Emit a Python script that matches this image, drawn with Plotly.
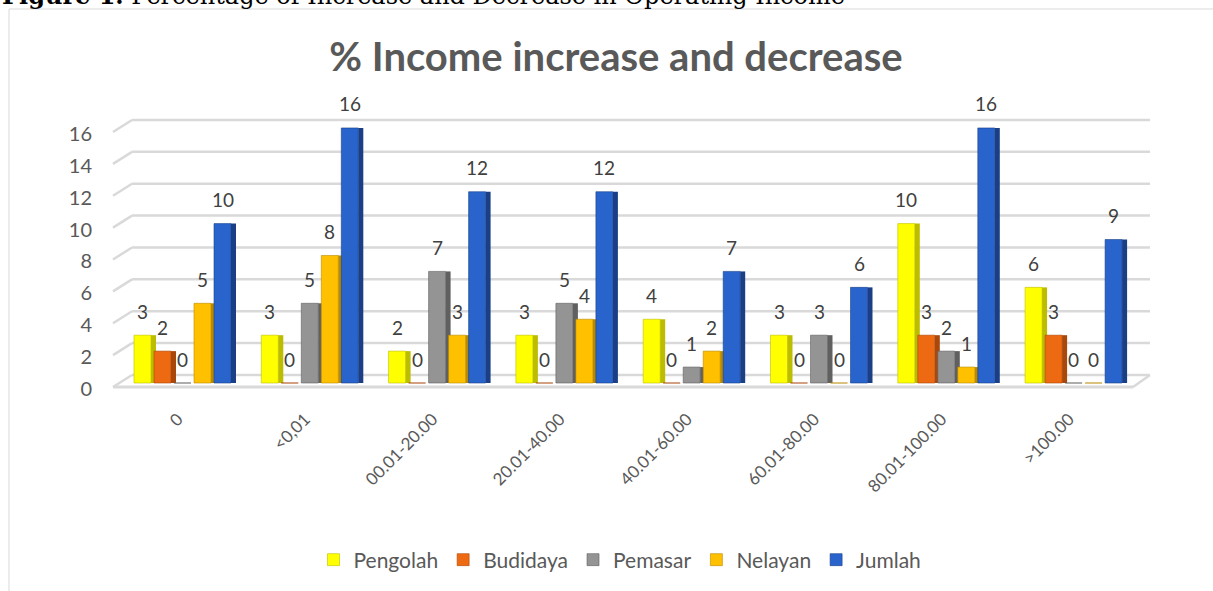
import plotly.graph_objects as go

# ---------------- data ----------------
categories = ["0", "<0,01", "00.01-20.00", "20.01-40.00", "40.01-60.00",
              "60.01-80.00", "80.01-100.00", ">100.00"]
series_names = ["Pengolah", "Budidaya", "Pemasar", "Nelayan", "Jumlah"]
pengolah = [3, 3, 2, 3, 4, 3, 10, 6]
budidaya = [2, 0, 0, 0, 0, 0, 3, 3]
pemasar = [0, 5, 7, 5, 1, 3, 2, 0]
nelayan = [5, 8, 3, 4, 2, 0, 1, 0]
jumlah = [10, 16, 12, 12, 7, 6, 16, 9]
y_ticks = [0, 2, 4, 6, 8, 10, 12, 14, 16]

series_values = [pengolah, budidaya, pemasar, nelayan, jumlah]
face_colors = ["#FFFF00", "#EE6A12", "#949494", "#FFC000", "#2864CC"]
side_colors = ["#BDBD00", "#A9480A", "#606060", "#B98A00", "#1A3F86"]

# ---------------- geometry (pixels) ----------------
W, H = 1213, 591
PL, PR, PT, PB = 113, 1150, 110, 395          # plot area
UX = 127.3                                     # px per category
UY = 15.94                                     # px per value unit
ZERO_PX = 383                                  # pixel of value 0
CENTER0 = 185                                  # pixel of first category
x0 = -(CENTER0 - PL) / UX
x1 = x0 + (PR - PL) / UX
y0 = -(PB - ZERO_PX) / UY
y1 = y0 + (PB - PT) / UY

FACE_W, SIDE_W, SLOT, START = 17, 5, 20, -51

xs = list(range(len(categories)))
fig = go.Figure()
annotations = []
for i, (name, vals) in enumerate(zip(series_names, series_values)):
    off = (START + i * SLOT) / UX
    fig.add_trace(go.Bar(
        x=xs, y=vals, name=name, offset=off, width=FACE_W / UX,
        marker=dict(color=face_colors[i], line=dict(color=side_colors[i], width=0.6)),
        hoverinfo="name+y",
    ))
    fig.add_trace(go.Bar(
        x=xs, y=vals, name=name, offset=off + FACE_W / UX, width=SIDE_W / UX,
        marker=dict(color=side_colors[i], line=dict(width=0)),
        showlegend=False, hoverinfo="skip",
    ))
    for xi, v in zip(xs, vals):
        annotations.append(dict(
            x=xi + off + FACE_W / UX / 2, y=v, xref="x", yref="y",
            text=str(v), showarrow=False, yshift=24,
            font=dict(family="Lato", size=19, color="#404040"),
        ))

# perspective gridlines (back wall + left depth edge)
def px_x(p):
    return (p - PL) / (PR - PL)

def px_y(p):
    return (PB - p) / (PB - PT)

shapes = []
grid_col = "#D9D9D9"
for v in y_ticks:
    shapes.append(dict(type="line", xref="paper", yref="y", layer="below",
                       x0=px_x(132), x1=1.0, y0=v + 8 / UY, y1=v + 8 / UY,
                       line=dict(color=grid_col, width=2.5)))
    shapes.append(dict(type="line", xref="paper", yref="y", layer="below",
                       x0=0, x1=px_x(132), y0=v - 4 / UY, y1=v + 8 / UY,
                       line=dict(color=grid_col, width=2.5)))
# floor front edge and right edge
shapes.append(dict(type="line", xref="paper", yref="y", layer="below",
                   x0=0, x1=px_x(1133), y0=-4 / UY, y1=-4 / UY,
                   line=dict(color=grid_col, width=3)))
shapes.append(dict(type="line", xref="paper", yref="y", layer="below",
                   x0=px_x(1133), x1=1.0, y0=-4 / UY, y1=8 / UY,
                   line=dict(color=grid_col, width=2.5)))
# chart border
shapes.append(dict(type="rect", xref="paper", yref="paper", layer="below",
                   x0=px_x(9), x1=px_x(1230), y0=px_y(620), y1=px_y(9),
                   line=dict(color="#D9D9D9", width=1)))

# figure caption (cut off at top in reference)
annotations.append(dict(
    xref="paper", yref="paper", x=px_x(0), y=px_y(12),
    xanchor="left", yanchor="bottom", showarrow=False,
    text="<b>Figure 1.</b> Percentage of Increase and Decrease in Operating Income",
    font=dict(family="DejaVu Serif", size=24, color="#000000"),
))

fig.update_layout(
    width=W, height=H,
    margin=dict(l=PL, r=W - PR, t=PT, b=H - PB, autoexpand=False),
    paper_bgcolor="white", plot_bgcolor="rgba(0,0,0,0)",
    barmode="overlay",
    title=dict(text="<b>% Income increase and decrease</b>",
               x=616 / W, xanchor="center", y=1 - 57 / H, yanchor="middle",
               font=dict(family="Lato", size=40, color="#595959")),
    xaxis=dict(range=[x0, x1], tickvals=xs, ticktext=categories, tickangle=-45,
               showgrid=False, zeroline=False, showline=False, ticks="",
               ticklabelshift=-7, ticklabelstandoff=10,
               tickfont=dict(family="Lato", size=17, color="#595959")),
    yaxis=dict(range=[y0, y1], tickvals=y_ticks, showgrid=False, zeroline=False,
               showline=False, ticks="", ticklabelstandoff=20, ticklabelshift=6,
               tickfont=dict(family="Lato", size=20, color="#595959")),
    legend=dict(orientation="h", xref="container", yref="container",
                x=620 / W, xanchor="center", y=1 - 560 / H, yanchor="middle",
                font=dict(family="Lato", size=21, color="#595959"),
                itemwidth=30, tracegroupgap=0),
    annotations=annotations, shapes=shapes,
    showlegend=True,
)

fig.write_html("out.html", config={"displayModeBar": False},
               post_script="document.body.style.margin='0px';")
